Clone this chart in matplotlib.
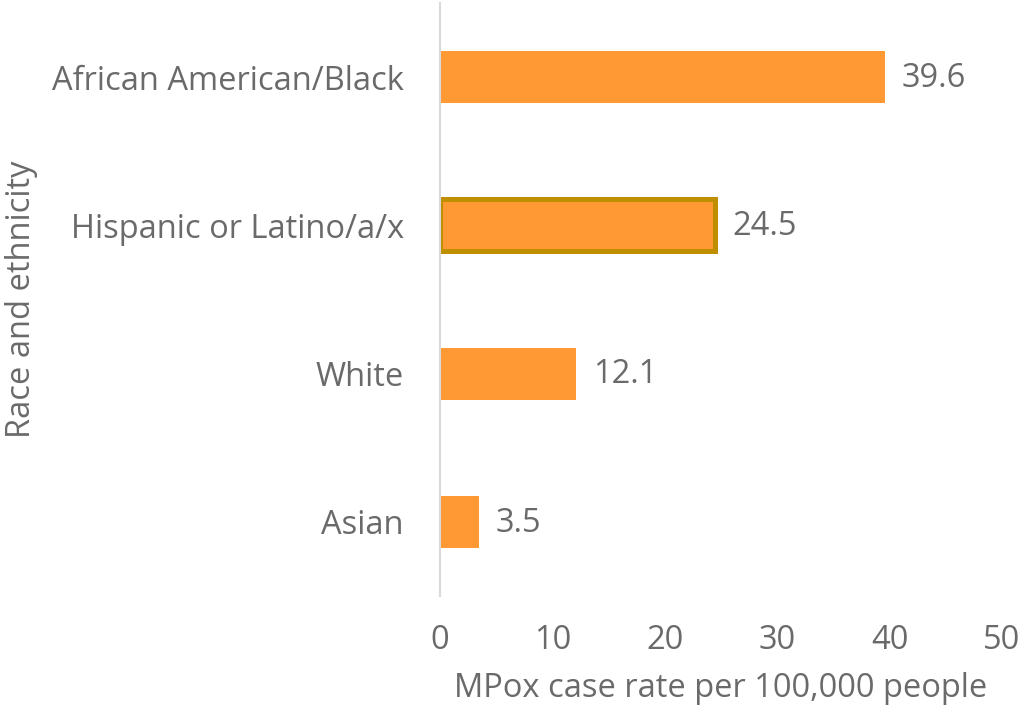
import matplotlib
matplotlib.use("Agg")
import matplotlib.pyplot as plt

categories = ["Asian", "White", "Hispanic or Latino/a/x", "African American/Black"]
values = [3.5, 12.1, 24.5, 39.6]
xticks = [0, 10, 20, 30, 40, 50]

plt.rcParams['font.family'] = ['Open Sans', 'DejaVu Sans']
gray = '#6A6A6A'
bar_color = '#FF9933'
fs = 23.5

fig = plt.figure(figsize=(10.25, 7.17), dpi=100)
ax = fig.add_axes([0.4293, 0.1688, 0.5483, 0.827])

ypos = list(range(len(categories)))
bars = ax.barh(ypos, values, height=0.35, color=bar_color, zorder=2)
hisp = categories.index("Hispanic or Latino/a/x")
bars[hisp].set_edgecolor('#BF8F00')
bars[hisp].set_linewidth(3.6)

for y, v in zip(ypos, values):
    ax.annotate(f"{v:.1f}", xy=(v, y), xytext=(12, -1), textcoords='offset points',
                va='center', ha='left', fontsize=fs, color=gray)

ax.set_xlim(0, 50)
ax.set_ylim(-0.5, len(categories) - 0.5)
ax.set_xticks(xticks)
ax.set_xticklabels([str(t) for t in xticks])
ax.set_yticks(ypos)
ax.set_yticklabels(categories)
ax.tick_params(axis='both', length=0, labelsize=fs, labelcolor=gray)
ax.tick_params(axis='x', pad=20)
ax.tick_params(axis='y', pad=26)

for s in ['top', 'right', 'bottom']:
    ax.spines[s].set_visible(False)
ax.spines['left'].set_color('#D9D9D9')
ax.spines['left'].set_linewidth(1.5)

ax.set_xlabel("MPox case rate per 100,000 people", fontsize=fs, color=gray)
ax.xaxis.set_label_coords(0.5, -0.128)
ax.set_ylabel("Race and ethnicity", fontsize=fs, color=gray)
ax.yaxis.set_label_coords(-0.715, 0.5)

fig.savefig("out.png", dpi=100)
